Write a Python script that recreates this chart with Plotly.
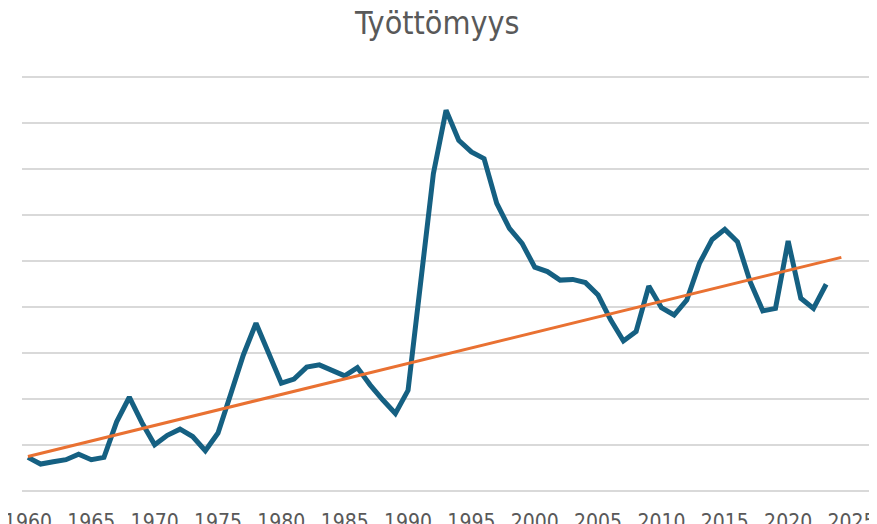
#!/usr/bin python3

# Imports
# ~~~~~~~~~~~~~~~~~~~~~~~~~~~~~~~~~~~~~~~~~~~~~~~~~~~~~~~~~~~~~~~~~~~~~~~~~~~~~~~~~~~~~~~~
# 3rd party:
from plotly import graph_objects as go

# ~~~~~~~~~~~~~~~~~~~~~~~~~~~~~~~~~~~~~~~~~~~~~~~~~~~~~~~~~~~~~~~~~~~~~~~~~~~~~~~~~~~~~~~~

TITLE = "Työttömyys"

years = list(range(1960, 2024))

unemployment = [
    1.45, 1.16, 1.26, 1.35, 1.59, 1.35, 1.45, 3.0, 4.07, 2.96,      # 1960-69
    2.0, 2.41, 2.68, 2.36, 1.74, 2.51, 4.2, 5.91, 7.29, 5.99,       # 1970-79
    4.68, 4.86, 5.38, 5.48, 5.23, 5.0, 5.36, 4.61, 3.96, 3.36,      # 1980-89
    4.37, 9.1, 13.81, 16.57, 15.26, 14.75, 14.46, 12.51, 11.42, 10.77,  # 1990-99
    9.73, 9.54, 9.17, 9.2, 9.06, 8.52, 7.43, 6.52, 6.93, 8.91,      # 2000-09
    7.97, 7.65, 8.3, 9.9, 10.94, 11.38, 10.84, 9.1, 7.83, 7.94,     # 2010-19
    10.87, 8.38, 7.94, 8.99,                                        # 2020-23
]

# linear trendline at both ends
trend_years = [1960, 2024.2]
trend_values = [1.49, 10.16]

tick_years = list(range(1960, 2030, 5))

FONT = '"Liberation Sans Narrow", "DejaVu Sans Condensed", Roboto, sans-serif'
TEXT_COLOUR = "#595959"
GRID_COLOUR = "#D9D9D9"

COLOURS = {
    "line": "#156082",
    "trend": "#E97132",
}

# the page body keeps its default 8px margin, so the figure is 8px smaller
# than the window in each direction
WIDTH = 877 - 8
HEIGHT = 524 - 8


fig = go.Figure()

fig.add_trace(
    go.Scatter(
        x=years,
        y=unemployment,
        mode="lines",
        line={"width": 5, "color": COLOURS["line"]},
        showlegend=False,
    )
)

fig.add_trace(
    go.Scatter(
        x=trend_years,
        y=trend_values,
        mode="lines",
        line={"width": 3, "color": COLOURS["trend"]},
        showlegend=False,
    )
)

fig.update_layout(
    width=WIDTH,
    height=HEIGHT,
    paper_bgcolor="white",
    plot_bgcolor="white",
    margin={"l": 14, "r": 7, "t": 67, "b": 31, "autoexpand": False},
    title={
        "text": TITLE,
        "x": 0.494,
        "xanchor": "center",
        "y": 0.993,
        "yanchor": "top",
        "font": {"family": FONT, "size": 32, "color": TEXT_COLOUR},
    },
    xaxis={
        "range": [1959.53, 2026.46],
        "tickvals": tick_years,
        "showgrid": False,
        "zeroline": False,
        "showline": False,
        "ticks": "",
        "automargin": False,
        "ticklabeloverflow": "allow",
        "ticklabelstandoff": 14,
        "tickfont": {"family": FONT, "size": 21, "color": TEXT_COLOUR},
    },
    yaxis={
        # padded a little so the 0 and 18 gridlines are not clipped away
        "range": [-0.1, 18.1],
        "dtick": 2,
        "showgrid": True,
        "gridcolor": GRID_COLOUR,
        "gridwidth": 1.5,
        "zeroline": False,
        "showticklabels": False,
        "ticks": "",
        "automargin": False,
    },
)

fig.write_html("out.html")
